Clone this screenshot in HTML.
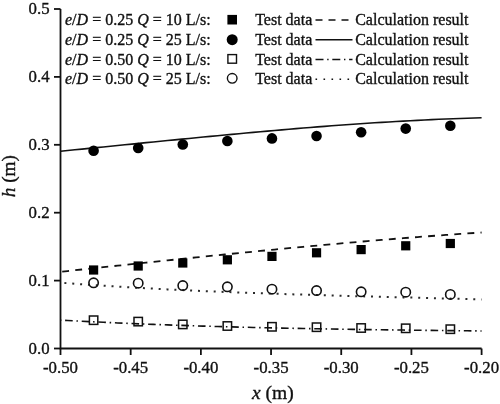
<!DOCTYPE html><html><head><meta charset="utf-8"><style>html,body{margin:0;padding:0;background:#fff;}svg{display:block;will-change:transform;}text{font-family:"Liberation Serif",serif;fill:#111;stroke:#111;stroke-width:0.35px;}</style></head><body>
<svg width="500" height="404" viewBox="0 0 500 404">
<path d="M60.5,9.00 V348.5 H481.60" fill="none" stroke="#111" stroke-width="1.8"/>
<line x1="54" y1="348.50" x2="60.5" y2="348.50" stroke="#111" stroke-width="1.8"/>
<text x="49.6" y="353.50" font-size="16.8" text-anchor="end">0.0</text>
<line x1="54" y1="280.60" x2="60.5" y2="280.60" stroke="#111" stroke-width="1.8"/>
<text x="49.6" y="285.60" font-size="16.8" text-anchor="end">0.1</text>
<line x1="54" y1="212.70" x2="60.5" y2="212.70" stroke="#111" stroke-width="1.8"/>
<text x="49.6" y="217.70" font-size="16.8" text-anchor="end">0.2</text>
<line x1="54" y1="144.80" x2="60.5" y2="144.80" stroke="#111" stroke-width="1.8"/>
<text x="49.6" y="149.80" font-size="16.8" text-anchor="end">0.3</text>
<line x1="54" y1="76.90" x2="60.5" y2="76.90" stroke="#111" stroke-width="1.8"/>
<text x="49.6" y="81.90" font-size="16.8" text-anchor="end">0.4</text>
<line x1="54" y1="9.00" x2="60.5" y2="9.00" stroke="#111" stroke-width="1.8"/>
<text x="49.6" y="14.00" font-size="16.8" text-anchor="end">0.5</text>
<line x1="60.50" y1="348.5" x2="60.50" y2="355" stroke="#111" stroke-width="1.8"/>
<text x="60.50" y="372.6" font-size="16.8" text-anchor="middle">-0.50</text>
<line x1="130.68" y1="348.5" x2="130.68" y2="355" stroke="#111" stroke-width="1.8"/>
<text x="130.68" y="372.6" font-size="16.8" text-anchor="middle">-0.45</text>
<line x1="200.87" y1="348.5" x2="200.87" y2="355" stroke="#111" stroke-width="1.8"/>
<text x="200.87" y="372.6" font-size="16.8" text-anchor="middle">-0.40</text>
<line x1="271.05" y1="348.5" x2="271.05" y2="355" stroke="#111" stroke-width="1.8"/>
<text x="271.05" y="372.6" font-size="16.8" text-anchor="middle">-0.35</text>
<line x1="341.23" y1="348.5" x2="341.23" y2="355" stroke="#111" stroke-width="1.8"/>
<text x="341.23" y="372.6" font-size="16.8" text-anchor="middle">-0.30</text>
<line x1="411.42" y1="348.5" x2="411.42" y2="355" stroke="#111" stroke-width="1.8"/>
<text x="411.42" y="372.6" font-size="16.8" text-anchor="middle">-0.25</text>
<line x1="481.60" y1="348.5" x2="481.60" y2="355" stroke="#111" stroke-width="1.8"/>
<text x="481.60" y="372.6" font-size="16.8" text-anchor="middle">-0.20</text>
<text x="252" y="398.8" font-size="19.5"><tspan font-style="italic">x</tspan> (m)</text>
<text transform="translate(15,197.3) rotate(-90)" font-size="19.3"><tspan font-style="italic">h</tspan> (m)</text>
<path d="M60.50,151.20 L67.64,150.49 L74.77,149.79 L81.91,149.08 L89.05,148.37 L96.19,147.66 L103.32,146.95 L110.46,146.23 L117.60,145.52 L124.74,144.81 L131.87,144.09 L139.01,143.38 L146.15,142.67 L153.28,141.95 L160.42,141.24 L167.56,140.54 L174.70,139.83 L181.83,139.13 L188.97,138.43 L196.11,137.74 L203.25,137.05 L210.38,136.37 L217.52,135.69 L224.66,135.01 L231.80,134.34 L238.93,133.68 L246.07,133.02 L253.21,132.38 L260.34,131.73 L267.48,131.10 L274.62,130.48 L281.76,129.86 L288.89,129.25 L296.03,128.66 L303.17,128.07 L310.31,127.49 L317.44,126.92 L324.58,126.37 L331.72,125.82 L338.85,125.29 L345.99,124.77 L353.13,124.27 L360.27,123.77 L367.40,123.29 L374.54,122.82 L381.68,122.37 L388.82,121.93 L395.95,121.51 L403.09,121.11 L410.23,120.71 L417.37,120.34 L424.50,119.98 L431.64,119.64 L438.78,119.32 L445.91,119.01 L453.05,118.73 L460.19,118.46 L467.33,118.21 L474.46,117.98 L481.60,117.77" fill="none" stroke="#111" stroke-width="1.6"/>
<path d="M60.50,271.82 L67.64,271.05 L74.77,270.28 L81.91,269.51 L89.05,268.74 L96.19,267.97 L103.32,267.20 L110.46,266.44 L117.60,265.67 L124.74,264.91 L131.87,264.15 L139.01,263.39 L146.15,262.63 L153.28,261.88 L160.42,261.12 L167.56,260.37 L174.70,259.63 L181.83,258.88 L188.97,258.14 L196.11,257.40 L203.25,256.67 L210.38,255.94 L217.52,255.21 L224.66,254.49 L231.80,253.77 L238.93,253.05 L246.07,252.34 L253.21,251.64 L260.34,250.94 L267.48,250.24 L274.62,249.55 L281.76,248.86 L288.89,248.18 L296.03,247.51 L303.17,246.84 L310.31,246.18 L317.44,245.52 L324.58,244.87 L331.72,244.23 L338.85,243.59 L345.99,242.96 L353.13,242.33 L360.27,241.72 L367.40,241.11 L374.54,240.51 L381.68,239.91 L388.82,239.33 L395.95,238.75 L403.09,238.18 L410.23,237.62 L417.37,237.07 L424.50,236.52 L431.64,235.99 L438.78,235.46 L445.91,234.94 L453.05,234.43 L460.19,233.94 L467.33,233.45 L474.46,232.97 L481.60,232.50" fill="none" stroke="#111" stroke-width="1.8" stroke-dasharray="6.9 6.23" stroke-dashoffset="-1.7"/>
<path d="M60.50,282.68 L67.64,283.22 L74.77,283.75 L81.91,284.26 L89.05,284.75 L96.19,285.24 L103.32,285.71 L110.46,286.16 L117.60,286.61 L124.74,287.04 L131.87,287.46 L139.01,287.86 L146.15,288.26 L153.28,288.64 L160.42,289.02 L167.56,289.38 L174.70,289.73 L181.83,290.07 L188.97,290.40 L196.11,290.73 L203.25,291.04 L210.38,291.35 L217.52,291.64 L224.66,291.93 L231.80,292.21 L238.93,292.48 L246.07,292.75 L253.21,293.01 L260.34,293.26 L267.48,293.50 L274.62,293.74 L281.76,293.98 L288.89,294.21 L296.03,294.43 L303.17,294.65 L310.31,294.86 L317.44,295.07 L324.58,295.28 L331.72,295.48 L338.85,295.68 L345.99,295.88 L353.13,296.07 L360.27,296.26 L367.40,296.45 L374.54,296.64 L381.68,296.82 L388.82,297.01 L395.95,297.19 L403.09,297.38 L410.23,297.56 L417.37,297.75 L424.50,297.93 L431.64,298.12 L438.78,298.30 L445.91,298.49 L453.05,298.68 L460.19,298.87 L467.33,299.07 L474.46,299.26 L481.60,299.46" fill="none" stroke="#2a2a2a" stroke-width="2.0" stroke-dasharray="2.0 5.87" stroke-dashoffset="3.95"/>
<path d="M60.50,320.13 L67.64,320.52 L74.77,320.89 L81.91,321.26 L89.05,321.62 L96.19,321.96 L103.32,322.30 L110.46,322.63 L117.60,322.94 L124.74,323.25 L131.87,323.55 L139.01,323.84 L146.15,324.13 L153.28,324.40 L160.42,324.66 L167.56,324.92 L174.70,325.17 L181.83,325.41 L188.97,325.65 L196.11,325.88 L203.25,326.09 L210.38,326.31 L217.52,326.51 L224.66,326.71 L231.80,326.91 L238.93,327.09 L246.07,327.27 L253.21,327.45 L260.34,327.62 L267.48,327.78 L274.62,327.94 L281.76,328.09 L288.89,328.24 L296.03,328.38 L303.17,328.52 L310.31,328.65 L317.44,328.78 L324.58,328.90 L331.72,329.03 L338.85,329.14 L345.99,329.26 L353.13,329.37 L360.27,329.47 L367.40,329.58 L374.54,329.68 L381.68,329.78 L388.82,329.87 L395.95,329.97 L403.09,330.06 L410.23,330.15 L417.37,330.24 L424.50,330.32 L431.64,330.41 L438.78,330.49 L445.91,330.57 L453.05,330.65 L460.19,330.73 L467.33,330.81 L474.46,330.89 L481.60,330.97" fill="none" stroke="#111" stroke-width="1.6" stroke-dasharray="7.6 3.75 1.5 3.77" stroke-dashoffset="12.0"/>
<rect x="89.00" y="265.40" width="9.2" height="9.2" fill="#000"/>
<rect x="133.59" y="261.40" width="9.2" height="9.2" fill="#000"/>
<rect x="178.18" y="258.40" width="9.2" height="9.2" fill="#000"/>
<rect x="222.77" y="255.20" width="9.2" height="9.2" fill="#000"/>
<rect x="267.36" y="251.80" width="9.2" height="9.2" fill="#000"/>
<rect x="311.95" y="248.20" width="9.2" height="9.2" fill="#000"/>
<rect x="356.54" y="245.00" width="9.2" height="9.2" fill="#000"/>
<rect x="401.13" y="241.20" width="9.2" height="9.2" fill="#000"/>
<rect x="445.72" y="238.90" width="9.2" height="9.2" fill="#000"/>
<circle cx="93.60" cy="150.70" r="5.3" fill="#000"/>
<circle cx="138.19" cy="148.00" r="5.3" fill="#000"/>
<circle cx="182.78" cy="144.50" r="5.3" fill="#000"/>
<circle cx="227.37" cy="141.00" r="5.3" fill="#000"/>
<circle cx="271.96" cy="138.40" r="5.3" fill="#000"/>
<circle cx="316.55" cy="136.00" r="5.3" fill="#000"/>
<circle cx="361.14" cy="132.20" r="5.3" fill="#000"/>
<circle cx="405.73" cy="128.60" r="5.3" fill="#000"/>
<circle cx="450.32" cy="125.80" r="5.3" fill="#000"/>
<rect x="89.40" y="316.00" width="8.4" height="8.4" fill="none" stroke="#111" stroke-width="1.5"/>
<rect x="133.99" y="317.40" width="8.4" height="8.4" fill="none" stroke="#111" stroke-width="1.5"/>
<rect x="178.58" y="320.20" width="8.4" height="8.4" fill="none" stroke="#111" stroke-width="1.5"/>
<rect x="223.17" y="321.80" width="8.4" height="8.4" fill="none" stroke="#111" stroke-width="1.5"/>
<rect x="267.76" y="322.60" width="8.4" height="8.4" fill="none" stroke="#111" stroke-width="1.5"/>
<rect x="312.35" y="323.00" width="8.4" height="8.4" fill="none" stroke="#111" stroke-width="1.5"/>
<rect x="356.94" y="323.80" width="8.4" height="8.4" fill="none" stroke="#111" stroke-width="1.5"/>
<rect x="401.53" y="324.10" width="8.4" height="8.4" fill="none" stroke="#111" stroke-width="1.5"/>
<rect x="446.12" y="325.00" width="8.4" height="8.4" fill="none" stroke="#111" stroke-width="1.5"/>
<circle cx="93.60" cy="282.80" r="4.7" fill="none" stroke="#111" stroke-width="1.6"/>
<circle cx="138.19" cy="283.20" r="4.7" fill="none" stroke="#111" stroke-width="1.6"/>
<circle cx="182.78" cy="285.60" r="4.7" fill="none" stroke="#111" stroke-width="1.6"/>
<circle cx="227.37" cy="286.80" r="4.7" fill="none" stroke="#111" stroke-width="1.6"/>
<circle cx="271.96" cy="289.20" r="4.7" fill="none" stroke="#111" stroke-width="1.6"/>
<circle cx="316.55" cy="290.60" r="4.7" fill="none" stroke="#111" stroke-width="1.6"/>
<circle cx="361.14" cy="291.80" r="4.7" fill="none" stroke="#111" stroke-width="1.6"/>
<circle cx="405.73" cy="292.20" r="4.7" fill="none" stroke="#111" stroke-width="1.6"/>
<circle cx="450.32" cy="294.40" r="4.7" fill="none" stroke="#111" stroke-width="1.6"/>
<text x="65" y="25.20" font-size="16.0"><tspan font-style="italic">e</tspan>/<tspan font-style="italic">D</tspan> = 0.25 <tspan font-style="italic">Q</tspan> = 10 L/s:</text>
<text x="255.2" y="25.20" font-size="16.0">Test data</text>
<text x="355.2" y="25.20" font-size="16.0">Calculation result</text>
<rect x="227.40" y="14.90" width="9.6" height="9.6" fill="#000"/>
<line x1="315.5" y1="20.00" x2="352.5" y2="20.00" stroke="#111" stroke-width="1.6" stroke-dasharray="7 6"/>
<text x="65" y="44.90" font-size="16.0"><tspan font-style="italic">e</tspan>/<tspan font-style="italic">D</tspan> = 0.25 <tspan font-style="italic">Q</tspan> = 25 L/s:</text>
<text x="255.2" y="44.90" font-size="16.0">Test data</text>
<text x="355.2" y="44.90" font-size="16.0">Calculation result</text>
<circle cx="232.2" cy="39.70" r="5.5" fill="#000"/>
<line x1="315.5" y1="39.80" x2="352.5" y2="39.80" stroke="#111" stroke-width="1.6" />
<text x="65" y="64.50" font-size="16.0"><tspan font-style="italic">e</tspan>/<tspan font-style="italic">D</tspan> = 0.50 <tspan font-style="italic">Q</tspan> = 10 L/s:</text>
<text x="255.2" y="64.50" font-size="16.0">Test data</text>
<text x="355.2" y="64.50" font-size="16.0">Calculation result</text>
<rect x="227.90" y="54.60" width="8.6" height="8.6" fill="#fff" stroke="#111" stroke-width="1.4"/>
<line x1="315.5" y1="59.50" x2="352.5" y2="59.50" stroke="#111" stroke-width="1.6" stroke-dasharray="8 3.7 1.4 3.7"/>
<text x="65" y="83.80" font-size="16.0"><tspan font-style="italic">e</tspan>/<tspan font-style="italic">D</tspan> = 0.50 <tspan font-style="italic">Q</tspan> = 25 L/s:</text>
<text x="255.2" y="83.80" font-size="16.0">Test data</text>
<text x="355.2" y="83.80" font-size="16.0">Calculation result</text>
<circle cx="232.2" cy="78.30" r="4.8" fill="#fff" stroke="#111" stroke-width="1.4"/>
<line x1="315.5" y1="79.20" x2="352.5" y2="79.20" stroke="#111" stroke-width="1.6" stroke-dasharray="1.6 6.4"/>
</svg></body></html>
